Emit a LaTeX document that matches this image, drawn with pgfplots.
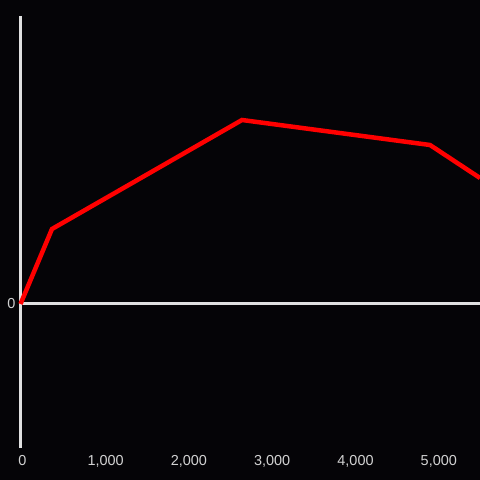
\documentclass[border=0pt]{standalone}
\usepackage{fontspec}
\setmainfont{Liberation Sans}
\usepackage{pgfplots}
\pgfplotsset{compat=1.18}
\definecolor{bg}{RGB}{5,4,7}
\definecolor{axl}{RGB}{224,224,224}
\definecolor{tlab}{RGB}{210,210,210}
\begin{document}
\begin{tikzpicture}
\useasboundingbox (0,0) rectangle (480bp,480bp);
\fill[bg] (0,0) rectangle (480bp,480bp);
\begin{axis}[
  at={(20.5bp,32bp)}, anchor=south west,
  scale only axis, width=459.5bp, height=432bp,
  xmin=0, xmax=5516, ymin=-144, ymax=288,
  axis x line=bottom, axis y line=left,
  axis line style={draw=none},
  major tick length=0pt,
  clip=false,
  xtick={0,1000,2000,3000,4000,5000},
  ytick={0},
  /pgf/number format/assume math mode=true,
  /pgf/number format/1000 sep={,},
  tick label style={font=\fontsize{14.5}{16}\selectfont, text=tlab, inner sep=0pt},
  xticklabel style={anchor=base, yshift=-17.7bp, xshift=1.8bp},
  yticklabel style={anchor=east, xshift=-4.8bp},
]
\draw[axl, line width=3bp] (axis cs:0,-144) -- (axis cs:0,288);
\draw[axl, line width=3bp] (axis cs:0,0) -- (axis cs:5516,0);
\addplot[red, line width=4.5bp, line join=miter] coordinates {
  (0,0) (378,75) (2659,184) (4916,159) (5516,126)
};
\end{axis}
\end{tikzpicture}
\end{document}
